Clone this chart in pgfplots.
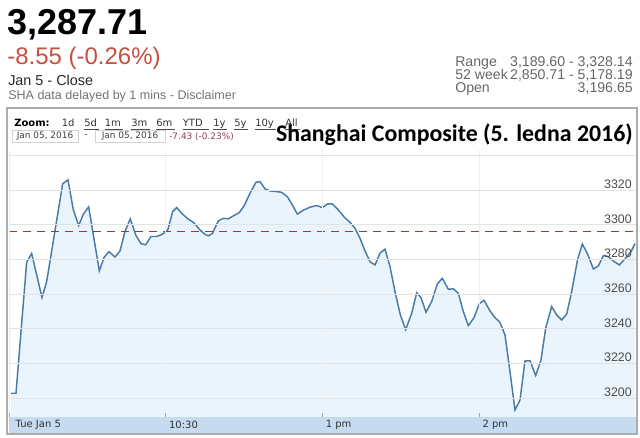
\documentclass[border=0pt]{standalone}
\usepackage{pgfplots}
\pgfplotsset{compat=1.18}
\usepackage{pgfplotstable}
\usepackage{fontspec}
\setmainfont{Liberation Sans}
\newfontfamily\verd{DejaVu Sans}
\newfontfamily\calfont{Carlito}

\definecolor{lineblue}{RGB}{74,122,166}
\definecolor{fillblue}{RGB}{234,244,252}
\definecolor{bandblue}{RGB}{198,218,240}
\definecolor{downred}{RGB}{196,80,66}
\definecolor{prevred}{RGB}{165,55,55}
\definecolor{mauve}{RGB}{150,60,95}

% minutes of trading since 9:30 (lunch break removed), index value
\pgfplotstableread{
m v
0.77 3202.9
2.68 3202.9
6.76 3278.5
8.68 3283.5
12.63 3258.1
14.42 3267.3
20.54 3323.7
22.58 3326.0
24.62 3308.7
26.67 3299.6
28.45 3306.2
30.49 3310.4
34.58 3273.5
36.36 3281.2
38.28 3284.6
40.57 3281.5
42.49 3285.0
44.40 3296.2
46.44 3303.5
48.49 3294.2
50.53 3289.2
52.31 3288.5
54.35 3293.3
56.52 3293.3
58.69 3294.6
60.73 3296.9
62.65 3307.7
64.18 3310.0
66.35 3306.3
68.64 3303.3
70.56 3301.5
73.11 3297.1
75.02 3294.6
76.30 3293.7
77.83 3295.0
80.13 3302.3
82.04 3303.8
83.96 3303.5
85.87 3305.2
88.16 3307.1
90.08 3311.2
92.25 3318.3
94.55 3324.6
96.08 3325.0
97.99 3320.8
99.90 3319.6
102.46 3319.2
104.37 3318.8
106.54 3316.3
108.58 3311.2
110.36 3306.2
112.66 3308.5
115.22 3310.2
117.77 3311.2
119.93 3310.0
121.98 3312.1
123.76 3312.1
126.06 3308.7
128.36 3304.4
130.53 3301.5
132.44 3298.1
134.35 3292.3
136.27 3285.0
138.18 3278.8
140.10 3276.9
142.01 3283.7
143.92 3286.0
145.84 3276.0
147.75 3261.5
149.79 3248.1
151.83 3239.6
154.13 3249.0
156.04 3260.8
157.70 3258.1
159.62 3249.6
161.79 3255.8
163.95 3266.0
165.87 3269.2
168.16 3262.9
170.08 3263.1
171.99 3260.6
173.91 3250.0
175.82 3241.9
177.99 3246.5
180.03 3254.6
181.82 3256.5
184.11 3250.4
186.03 3246.5
187.94 3243.8
189.86 3236.5
191.77 3215.4
193.68 3193.3
195.60 3199.0
197.51 3221.5
199.43 3221.7
201.60 3213.1
203.64 3222.1
205.42 3240.4
207.72 3252.9
209.63 3248.1
211.55 3245.2
213.46 3248.5
215.38 3261.5
217.67 3280.2
219.46 3289.0
221.50 3283.1
223.67 3274.6
225.58 3276.3
227.50 3282.3
229.41 3281.7
231.32 3279.2
233.62 3276.9
235.79 3280.4
238.09 3284.6
239.62 3289.2
}\sha

\begin{document}
\begin{tikzpicture}[x=0.75pt,y=-0.75pt]
\useasboundingbox (0,0) rectangle (640,438);

% quote header
\node[anchor=base west,inner sep=0pt,font=\fontsize{27}{27}\selectfont\bfseries] at (7,35) {3,287.71};
\node[anchor=base west,inner sep=0pt,text=downred,font=\fontsize{18}{18}\selectfont] at (7,64.5) {-8.55 (-0.26\%)};
\node[anchor=base west,inner sep=0pt,text=black!85,font=\fontsize{10.8}{12}\selectfont] at (8,86) {Jan 5 - Close};
\node[anchor=base west,inner sep=0pt,text=black!55,font=\fontsize{9.4}{11}\selectfont] at (8,100) {SHA data delayed by 1 mins - Disclaimer};

\begin{scope}[font=\fontsize{10.6}{12}\selectfont,text=black!60,inner sep=0pt]
\node[anchor=base west] at (455,66.5) {Range};
\node[anchor=base east] at (633,66.5) {3,189.60 - 3,328.14};
\node[anchor=base west] at (455,80) {52 week};
\node[anchor=base east] at (633,80) {2,850.71 - 5,178.19};
\node[anchor=base west] at (455,93) {Open};
\node[anchor=base east] at (633,93) {3,196.65};
\end{scope}

% chart box header
\node[anchor=base west,inner sep=0pt,font=\verd\fontsize{7.5}{9}\selectfont\bfseries] at (14,127) {Zoom:};
\begin{scope}[font=\verd\fontsize{7.5}{9}\selectfont,text=black!80,inner sep=0pt]
\node[anchor=base west] at (61.5,127) {1d};
\foreach \lab/\xx in {5d/84,1m/104.6,3m/131,6m/156,YTD/182.6,1y/213,5y/234,10y/255,All/285}{
  \node[anchor=base west] (lk) at (\xx,127) {\lab};
  \draw[black!70, line width=0.5pt] (lk.base west)++(0,2) -- ++({width("\lab")/0.75},0);
}
\end{scope}
\draw[gray!35,fill=white] (12,130.5) rectangle (78,142.5);
\draw[gray!35,fill=white] (95,130.5) rectangle (165,142.5);
\begin{scope}[font=\verd\fontsize{6.7}{8}\selectfont,text=black!75,inner sep=0pt]
\node at (45,136.5) {Jan 05, 2016};
\node at (86,136.5) {-};
\node at (130,136.5) {Jan 05, 2016};
\node[anchor=west,text=mauve] at (169,136.5) {-7.43 (-0.23\%)};
\end{scope}
\node[anchor=base east,inner sep=0pt,font=\calfont\fontsize{17.9}{20}\selectfont\bfseries] at (633,142) {Shanghai Composite (5. ledna 2016)};

% time band under the plot
\fill[bandblue] (9,417) rectangle (636,433);

\begin{axis}[
  at={(6.75pt,-312.75pt)}, anchor=south west,
  scale only axis, width=470.25pt, height=200.25pt,
  xmin=0, xmax=240, ymin=3189.2, ymax=3343.2,
  axis on top,
  axis line style={draw=none},
  xtick={0,60,120,180},
  xticklabels={\hspace{2.5pt}Tue Jan 5,10:30,1 pm,2 pm},
  xticklabel style={font=\verd\fontsize{7.5}{9}\selectfont, text=black!80, anchor=west, inner sep=0pt, xshift=2.3pt, yshift=-6pt},
  xtick pos=left, tick align=inside, major tick length=3pt,
  xtick style={gray!70, line width=0.75pt},
  ytick={3200,3220,3240,3260,3280,3300,3320,3340},
  yticklabels={3200,3220,3240,3260,3280,3300,3320,{}},
  ytick style={draw=none},
  yticklabel pos=right,
  yticklabel style={font=\fontsize{9.3}{10}\selectfont, text=black!70, anchor=south east, inner sep=0pt, xshift=-3pt, yshift=1pt},
  xmajorgrids, ymajorgrids,
  x grid style={gray!12, line width=0.75pt},
  y grid style={gray!22, line width=0.75pt},
]
\addplot[fill=fillblue, draw=none] table[x=m,y=v]{\sha} \closedcycle;
\addplot[lineblue, line width=1.1pt] table[x=m,y=v]{\sha};
\addplot[prevred, line width=0.9pt, dash pattern=on 6pt off 4.5pt] coordinates {(0,3296.26) (240,3296.26)};
\end{axis}

% box frame
\draw[gray!65, line width=1.1pt] (7,108) rectangle (637,434);
\end{tikzpicture}
\end{document}
